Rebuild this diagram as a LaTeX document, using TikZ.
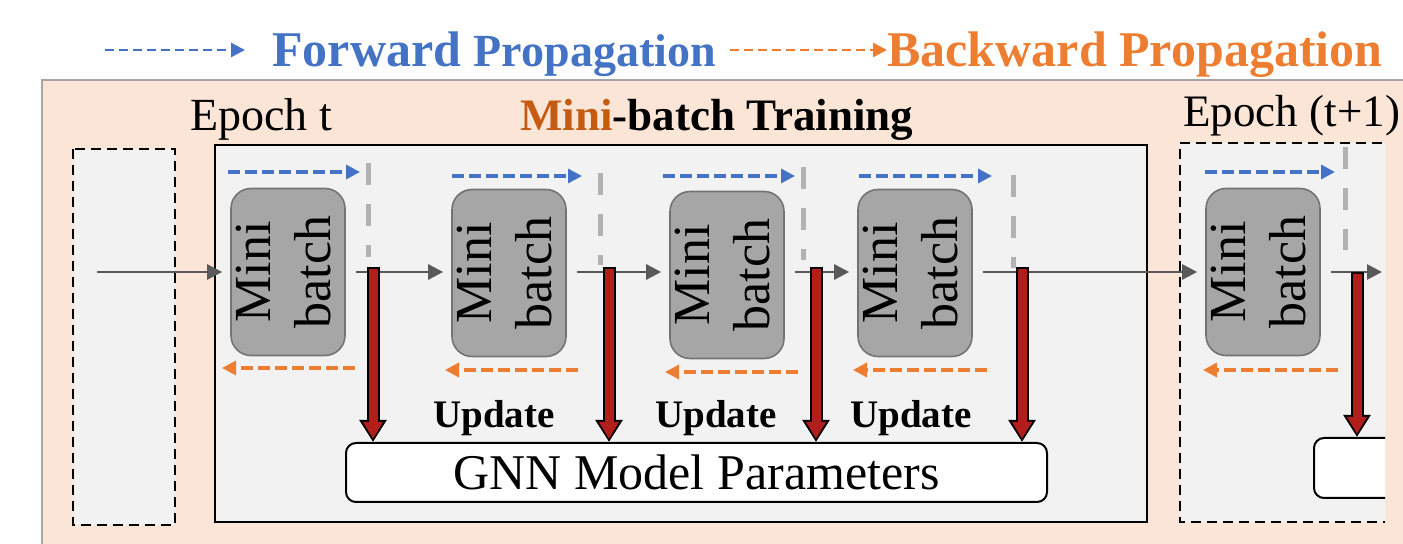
\documentclass[tikz,border=0pt]{standalone}
\usepackage{fontspec}
\setmainfont{Liberation Serif}
\usetikzlibrary{arrows.meta,positioning,calc}

\definecolor{peach}{RGB}{251,229,214}
\definecolor{panel}{RGB}{242,242,242}
\definecolor{fwdblue}{RGB}{68,114,196}
\definecolor{bwdorange}{RGB}{237,125,49}
\definecolor{titleorange}{RGB}{197,90,17}
\definecolor{batchgray}{RGB}{166,166,166}
\definecolor{flowgray}{RGB}{89,89,89}
\definecolor{sepgray}{RGB}{178,178,178}
\definecolor{updred}{RGB}{178,30,28}

\newcommand{\mbtext}{\makebox[0pt]{\rotatebox{90}{\begin{tabular}{@{}c@{}}Mini\\batch\end{tabular}}}}

\begin{document}
\begin{tikzpicture}[x=0.5pt, y=-0.5pt, every node/.style={inner sep=0pt},
  batch/.style={draw=black!55, line width=0.8pt, fill=batchgray, rounded corners=10pt,
    minimum width=57pt, minimum height=83.5pt, font=\fontsize{26}{30}\selectfont},
  param/.style={draw=black, line width=1pt, fill=white, rounded corners=5pt,
    font=\fontsize{25}{30}\selectfont},
  dashbox/.style={draw=black, line width=1.1pt, dash pattern=on 5pt off 3pt},
  flow/.style={draw=flowgray, line width=1.3pt, shorten <=5pt, shorten >=4pt,
    -{Triangle[length=7.5pt,width=7.5pt]}},
  fwd/.style={draw=fwdblue, line width=1.6pt, dash pattern=on 6pt off 2.5pt,
    -{Triangle[length=7pt,width=7pt]}},
  bwd/.style={draw=bwdorange, line width=1.6pt, dash pattern=on 6pt off 2.5pt,
    -{Triangle[length=7pt,width=7pt]}},
  sepline/.style={draw=sepgray, line width=2.5pt, dash pattern=on 11pt off 9.5pt},
  upd/.style={draw=updred, line width=4.5pt, shorten <=1pt, shorten >=1.6pt,
    -{Triangle[length=8.5pt,width=9.5pt]},
    preaction={draw=black, line width=6.5pt, shorten <=0pt, shorten >=0pt,
      -{Triangle[length=11pt,width=13pt]}}},
  updlbl/.style={anchor=base west, font=\fontsize{19.5}{24}\selectfont\bfseries}]
  \useasboundingbox (0,0) rectangle (1403,544);

  % background
  \fill[peach] (42,80) rectangle (1403,544);
  \draw[black!35, line width=1pt] (42,544) -- (42,80) -- (1403,80);

  % legend
  \node[anchor=base west, text=fwdblue, font=\fontsize{25}{30}\selectfont\bfseries] (fwdlbl) at (272,67)
    {Forward {\fontsize{23}{28}\selectfont Propagation}};
  \node[anchor=base west, text=bwdorange, font=\fontsize{25}{30}\selectfont\bfseries] (bwdlbl) at (887,67)
    {Backward Propagation};
  \coordinate (fwdkey) at (105,50);
  \coordinate (bwdkey) at (730,50);
  \draw[fwd, line width=1.3pt, dash pattern=on 4.5pt off 2.5pt] (fwdkey) -- (245,50);
  \draw[bwd, line width=1.3pt, dash pattern=on 4.5pt off 2.5pt] (bwdkey) -- (bwdkey -| bwdlbl.west);

  % panels
  \draw[dashbox, fill=panel] (73,149) rectangle (175,525);
  \draw[fill=panel, line width=1pt] (215,145) rectangle (1147,522);
  \fill[panel] (1180,143) rectangle (1385,522);
  \draw[dashbox] (1382,143) -- (1180,143) -- (1180,522) -- (1385,522);

  % titles
  \node[anchor=base west, font=\fontsize{23}{28}\selectfont] (ept) at (190,131) {Epoch t};
  \node[anchor=base west, font=\fontsize{22.5}{27}\selectfont\bfseries] (mbt) at (520,131)
    {\textcolor{titleorange}{Mini}-batch Training};
  \node[anchor=base west, font=\fontsize{22.5}{27}\selectfont] (epn) at (1183,127) {Epoch (t+1)};

  % mini-batches
  \node[batch] (mb1) at (288,272) {\mbtext};
  \node[batch] (mb2) at (509,273) {\mbtext};
  \node[batch] (mb3) at (727,275) {\mbtext};
  \node[batch] (mb4) at (915,273) {\mbtext};
  \node[batch] (mb5) at (1263,272) {\mbtext};

  % model parameters
  \node[param, minimum width=350.5pt, minimum height=29.5pt] (gnn) at (696.5,472.5) {GNN Model Parameters};
  \begin{scope}
    \clip (1180,140) rectangle (1385,530);
    \node[param, anchor=north west, minimum width=50pt, minimum height=30pt] (gnn2) at (1313,437) {};
  \end{scope}

  % separators between steps
  \draw[sepline] (368,163) -- (368,257);
  \draw[sepline] (600,173) -- (600,265);
  \draw[sepline] (803,167) -- (803,260);
  \draw[sepline] (1013,175) -- (1013,268);
  \draw[sepline] (1345,147) -- (1345,250);

  % data flow
  \coordinate (feed) at (87,272);
  \coordinate (exit) at (1390,272);
  \draw[flow] (feed) -- (feed -| mb1.west);
  \draw[flow] (mb1.east) -- (mb1.east -| mb2.west);
  \draw[flow] (mb1.east -| mb2.east) -- (mb1.east -| mb3.west);
  \draw[flow] (mb1.east -| mb3.east) -- (mb1.east -| mb4.west);
  \draw[flow] (mb1.east -| mb4.east) -- (mb5.west);
  \draw[flow] (mb5.east) -- (exit);

  % forward / backward passes
  \draw[fwd] (228,172) -- (360,172);
  \draw[fwd] (452,176) -- (582,176);
  \draw[fwd] (663,176) -- (795,176);
  \draw[fwd] (859,176) -- (992,176);
  \draw[fwd] (1205,172) -- (1335,172);
  \draw[bwd] (355,368) -- (222,368);
  \draw[bwd] (578,370) -- (445,370);
  \draw[bwd] (798,372) -- (665,372);
  \draw[bwd] (987,370) -- (853,370);
  \draw[bwd] (1338,370) -- (1203,370);

  % updates
  \coordinate (u1) at (373,267);
  \coordinate (u2) at (609,267);
  \coordinate (u3) at (816,267);
  \coordinate (u4) at (1022,267);
  \coordinate (u5) at (1357,272);
  \draw[upd] (u1) -- (u1 |- gnn.north);
  \draw[upd] (u2) -- (u2 |- gnn.north);
  \draw[upd] (u3) -- (u3 |- gnn.north);
  \draw[upd] (u4) -- (u4 |- gnn.north);
  \draw[upd] (u5) -- (u5 |- gnn2.north);

  \node[updlbl] (upd1) at (433,428) {Update};
  \node[updlbl] (upd2) at (655,428) {Update};
  \node[updlbl] (upd3) at (850,428) {Update};
\end{tikzpicture}
\end{document}
